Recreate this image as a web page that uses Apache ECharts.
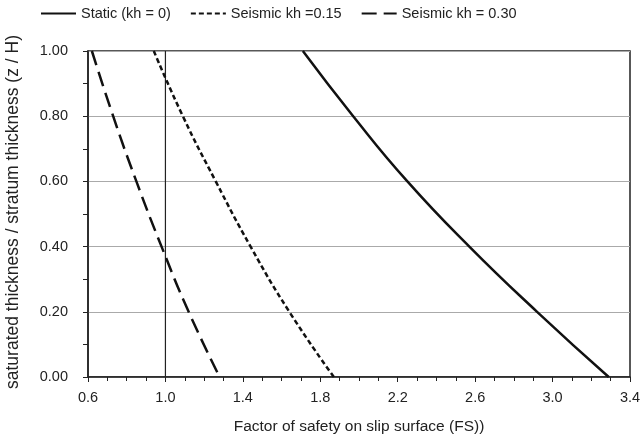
<!DOCTYPE html>
<html>
<head>
<meta charset="utf-8">
<script src="https://cdn.jsdelivr.net/npm/echarts@6/dist/echarts.min.js"></script>
<style>
    html, body { margin: 0; padding: 0; background: #fff; }
    #chart { width: 644px; height: 443px; }
</style>
</head>
<body>
<div id="chart"></div>
<script>
// z/H levels shared by all curves
var depthRatios = [1.0, 0.8, 0.6, 0.4, 0.2, 0.0];
// factor of safety
var fsStatic = [1.71, 1.97, 2.25, 2.57, 2.92, 3.29];
var fsSeismic15 = [0.94, 1.09, 1.26, 1.44, 1.64, 1.87];
var fsSeismic30 = [0.62, 0.73, 0.85, 0.98, 1.12, 1.28];
// vertical reference line FS = 1
var fsLimitX = [1.0, 1.0];
var fsLimitY = [0.0, 1.0];
var seriesNames = ['Static (kh = 0)', 'Seismic kh =0.15', 'Seismic kh = 0.30'];

/**
 * 把x数组和y数组合成坐标对
 */
function pairUp(xs, ys) {
    var out = [];
    for (var i = 0; i < xs.length; i++) {
        out.push([xs[i], ys[i]]);
    }
    return out;
}

/**
 * 生成一条曲线
 */
function curve(name, xs, dash) {
    return {
        name: name,
        type: 'line',
        data: pairUp(xs, depthRatios),
        smooth: 0.5,
        symbol: 'none',
        color: '#111',
        lineStyle: { color: '#111', width: 2.5, type: dash }
    };
}

var font = 'Liberation Sans, Arial, sans-serif';
var myChart = echarts.init(document.getElementById('chart'), null, { renderer: 'canvas' });
var option = {
    animation: false,
    backgroundColor: '#fff',
    textStyle: { fontFamily: font },
    legend: {
        data: seriesNames,
        left: 40,
        top: 6,
        padding: 0,
        itemWidth: 35,
        itemHeight: 14,
        itemGap: 19,
        itemStyle: { opacity: 0, borderWidth: 0 },
        textStyle: { fontSize: 14.5, color: '#222', fontFamily: font }
    },
    grid: {
        left: 88, right: 14, top: 51, bottom: 66,
        outerBoundsMode: 'none',
        containLabel: false,
        show: true, borderColor: '#222', borderWidth: 1.5
    },
    xAxis: {
        type: 'value',
        min: 0.6,
        max: 3.4,
        interval: 0.4,
        name: 'Factor of safety on slip surface (FS))',
        nameLocation: 'middle',
        nameGap: 42,
        nameTextStyle: { fontSize: 15.5, color: '#222', fontFamily: font },
        axisLine: { lineStyle: { color: '#222', width: 1.5 } },
        axisTick: { show: true, length: 5, lineStyle: { color: '#222' } },
        minorTick: { show: true, splitNumber: 4, length: 4, lineStyle: { color: '#222' } },
        axisLabel: {
            fontSize: 14.5, color: '#222', margin: 13,
            formatter: function (v) { return v.toFixed(1); }
        },
        splitLine: { show: false }
    },
    yAxis: {
        type: 'value',
        min: 0,
        max: 1,
        interval: 0.2,
        name: 'saturated thickness / stratum thickness (z / H)',
        nameLocation: 'middle',
        nameGap: 66,
        nameTextStyle: { fontSize: 17.5, color: '#222', fontFamily: font, padding: [0, 0, 0, 4] },
        axisLine: { lineStyle: { color: '#222', width: 1.5 } },
        axisTick: { show: true, length: 5, lineStyle: { color: '#222' } },
        minorTick: { show: true, splitNumber: 2, length: 5, lineStyle: { color: '#222' } },
        axisLabel: {
            fontSize: 14.5, color: '#222', margin: 20,
            formatter: function (v) { return v.toFixed(2); }
        },
        splitLine: { show: true, lineStyle: { color: '#aaa', width: 1 } }
    },
    series: [
        curve(seriesNames[0], fsStatic, 'solid'),
        curve(seriesNames[1], fsSeismic15, [5, 3]),
        curve(seriesNames[2], fsSeismic30, [15, 7]),
        {
            name: 'FS = 1',
            type: 'line',
            data: pairUp(fsLimitX, fsLimitY),
            symbol: 'none',
            lineStyle: { color: '#222', width: 1.2 },
            z: 1
        }
    ]
};
myChart.setOption(option, true);
</script>
</body>
</html>
